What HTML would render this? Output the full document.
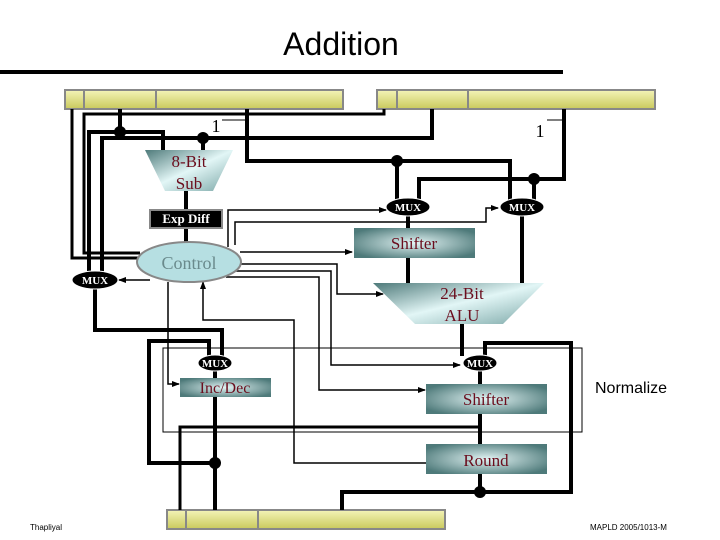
<!DOCTYPE html>
<html><head><meta charset="utf-8"><style>
html,body{margin:0;padding:0;background:#fff;}
svg{display:block;}
.s{font-family:"Liberation Serif",serif;fill:#6b0d1d;}
</style></head><body>
<svg width="720" height="540" viewBox="0 0 720 540" xmlns="http://www.w3.org/2000/svg">
<defs>
<linearGradient id="reg" x1="0" y1="0" x2="0" y2="1"><stop offset="0" stop-color="#f4f4b8"/><stop offset="1" stop-color="#c9c95c"/></linearGradient>
<radialGradient id="box" cx="0.5" cy="0.5" r="0.6"><stop offset="0" stop-color="#e2f4f4"/><stop offset="1" stop-color="#4e7a7a"/></radialGradient>
<linearGradient id="trap" x1="0" y1="0" x2="1" y2="1"><stop offset="0" stop-color="#4e7a7a"/><stop offset="0.5" stop-color="#e2f6f6"/><stop offset="1" stop-color="#7aa6a6"/></linearGradient>
<marker id="a" markerWidth="8" markerHeight="8" refX="7" refY="4" orient="auto" markerUnits="userSpaceOnUse"><path d="M0,1 L8,4 L0,7z" fill="#000"/></marker>
</defs>
<text x="341" y="55" text-anchor="middle" font-family="Liberation Sans,sans-serif" font-size="32" fill="#000">Addition</text>
<rect x="0" y="70" width="563" height="4" fill="#000"/>

<!-- registers -->
<g stroke="#888" stroke-width="2" fill="url(#reg)">
<rect x="65" y="90" width="278" height="19"/><line x1="84" y1="90" x2="84" y2="109"/><line x1="156" y1="90" x2="156" y2="109"/>
<rect x="377" y="90" width="278" height="19"/><line x1="397" y1="90" x2="397" y2="109"/><line x1="468" y1="90" x2="468" y2="109"/>
<rect x="167" y="510" width="278" height="19"/><line x1="186" y1="510" x2="186" y2="529"/><line x1="258" y1="510" x2="258" y2="529"/>
</g>

<!-- thick wires -->
<g fill="none" stroke="#000" stroke-width="4">
<polyline points="72,109 72,258 142,258" stroke-width="3"/>
<polyline points="384,109 384,114 84,114 84,253 140,253" stroke-width="3"/>
<line x1="120" y1="109" x2="120" y2="132"/>
<polyline points="89,273 89,132 163,132 163,150"/>
<polyline points="102,273 102,138 432,138 432,109"/>
<line x1="203" y1="138" x2="203" y2="150"/>
<polyline points="247,109 247,161 510,161 510,200"/>
<line x1="397" y1="161" x2="397" y2="200"/>
<polyline points="419,200 419,179 564,179 564,109"/>
<line x1="534" y1="179" x2="534" y2="200"/>
<line x1="186" y1="191" x2="186" y2="243"/>
<line x1="408" y1="214" x2="408" y2="283"/>
<line x1="522" y1="214" x2="522" y2="283"/>
<line x1="462" y1="324" x2="462" y2="356"/>
<polyline points="95,288 95,330 222,330 222,356"/>
<polyline points="209,356 209,341 149,341 149,463 215,463"/>
<line x1="215" y1="370" x2="215" y2="510"/>
<polyline points="485,356 485,343 571,343 571,492 342,492 342,510"/>
<line x1="480" y1="370" x2="480" y2="492"/>
<polyline points="480,427 180,427 180,510" stroke-width="3"/>
</g>
<g fill="#000">
<circle cx="120" cy="132" r="6"/><circle cx="203" cy="138" r="6"/><circle cx="397" cy="161" r="6"/><circle cx="534" cy="179" r="6"/>
<circle cx="215" cy="463" r="6"/><circle cx="480" cy="492" r="6"/>
</g>

<!-- thin wires -->
<g fill="none" stroke="#000" stroke-width="1.5">
<polyline points="228,247 228,210 386,210" marker-end="url(#a)"/>
<polyline points="235,245 235,222 486,222 486,208 498,208" marker-end="url(#a)"/>
<line x1="240" y1="252" x2="352" y2="252" marker-end="url(#a)"/>
<polyline points="236,264 337,264 337,294 383,294" marker-end="url(#a)"/>
<polyline points="232,271 331,271 331,365 460,365" marker-end="url(#a)"/>
<polyline points="226,277 319,277 319,390 425,390" marker-end="url(#a)"/>
<line x1="150" y1="280" x2="119" y2="280" marker-end="url(#a)"/>
<polyline points="168,282 168,384 179,384" marker-end="url(#a)"/>
<polyline points="426,463 294,463 294,320 203,320 203,282" marker-end="url(#a)"/>
<line x1="222" y1="120" x2="245" y2="120" stroke-width="1"/>
<line x1="547" y1="120" x2="563" y2="120" stroke-width="1"/>
</g>
<rect x="163" y="348" width="419" height="84" fill="none" stroke="#000" stroke-width="1"/>

<!-- components -->
<polygon points="145,150 233,150 213,191 165,191" fill="url(#trap)"/>
<text class="s" x="189" y="167" text-anchor="middle" font-size="17">8-Bit</text>
<text class="s" x="189" y="189" text-anchor="middle" font-size="17">Sub</text>
<rect x="150" y="210" width="72" height="18" fill="#000" stroke="#888" stroke-width="2"/>
<text x="186" y="223" text-anchor="middle" font-family="Liberation Serif,serif" font-weight="bold" font-size="13" fill="#fff">Exp Diff</text>
<ellipse cx="189" cy="262" rx="52" ry="20" fill="#b6dfe2" stroke="#888" stroke-width="2"/>
<text x="189" y="269" text-anchor="middle" font-family="Liberation Serif,serif" font-size="18" fill="#6a8a8c">Control</text>

<rect x="354" y="228" width="121" height="30" fill="url(#box)"/>
<text class="s" x="414" y="249" text-anchor="middle" font-size="17">Shifter</text>
<polygon points="373,283 544,283 503,324 415,324" fill="url(#trap)"/>
<text class="s" x="462" y="299" text-anchor="middle" font-size="17">24-Bit</text>
<text class="s" x="462" y="321" text-anchor="middle" font-size="17">ALU</text>

<rect x="180" y="378" width="91" height="19" fill="url(#box)"/>
<text class="s" x="225" y="393" text-anchor="middle" font-size="16">Inc/Dec</text>
<rect x="426" y="384" width="121" height="30" fill="url(#box)"/>
<text class="s" x="486" y="405" text-anchor="middle" font-size="17">Shifter</text>
<rect x="426" y="444" width="121" height="30" fill="url(#box)"/>
<text class="s" x="486" y="466" text-anchor="middle" font-size="17">Round</text>

<g fill="#000" stroke="#fff" stroke-width="1">
<ellipse cx="95" cy="280" rx="23" ry="9"/><ellipse cx="408" cy="207" rx="22" ry="9"/><ellipse cx="522" cy="207" rx="22" ry="9"/>
<ellipse cx="215" cy="363" rx="17" ry="8"/><ellipse cx="480" cy="363" rx="17" ry="8"/>
</g>
<g font-family="Liberation Serif,serif" font-weight="bold" font-size="11" fill="#fff" text-anchor="middle">
<text x="95" y="284">MUX</text><text x="408" y="211">MUX</text><text x="522" y="211">MUX</text>
<text x="215" y="367">MUX</text><text x="480" y="367">MUX</text>
</g>

<text x="216" y="132" text-anchor="middle" font-family="Liberation Serif,serif" font-size="18">1</text>
<text x="540" y="137" text-anchor="middle" font-family="Liberation Serif,serif" font-size="18">1</text>
<text x="595" y="393" font-family="Liberation Sans,sans-serif" font-size="16">Normalize</text>
<text x="30" y="530" font-family="Liberation Sans,sans-serif" font-size="8">Thapliyal</text>
<text x="590" y="530" font-family="Liberation Sans,sans-serif" font-size="8">MAPLD 2005/1013-M</text>
</svg>
</body></html>
